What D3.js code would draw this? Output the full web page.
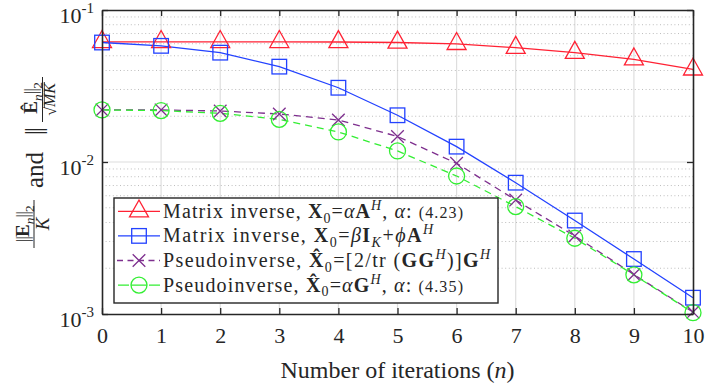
<!DOCTYPE html>
<html><head><meta charset="utf-8">
<script src="https://cdn.jsdelivr.net/npm/d3@7"></script>
<style>
body{margin:0;background:#fff}
</style>
</head><body>
<svg id="c" width="705" height="383"></svg>
<script>
// ---------------- data ----------------
const iterations = [0,1,2,3,4,5,6,7,8,9,10];
const xTickValues = [0,1,2,3,4,5,6,7,8,9,10];
const yTickValues = [1e-3, 1e-2, 1e-1];
const yTickExponents = ["-3","-2","-1"];
const matInvAlpha   = [0.0617,0.0617,0.0617,0.0617,0.0616,0.0611,0.0599,0.0565,0.0524,0.0474,0.0407];
const matInvBetaPhi = [0.0611,0.0581,0.0524,0.0424,0.0308,0.0203,0.01262,0.00731,0.00412,0.00230,0.00128];
const pinvTrace     = [0.0220,0.0220,0.02165,0.0207,0.0189,0.01472,0.00980,0.00562,0.00326,0.00182,0.00103];
const pinvAlpha     = [0.0220,0.0218,0.0209,0.0191,0.01576,0.01182,0.00809,0.00509,0.00315,0.00181,0.00102];
const xAxisTitle = "Number of iterations (";

// ---------------- styles ----------------
const FONT = '"Liberation Serif"';
const series = [
  {values: matInvAlpha,   color:"#ff2234", dash:null,  marker:"tri"},
  {values: matInvBetaPhi, color:"#2342ff", dash:null,  marker:"sq"},
  {values: pinvTrace,     color:"#7e2f8e", dash:"7,5", marker:"x"},
  {values: pinvAlpha,     color:"#33ee33", dash:"7,5", marker:"circ"}
];
const legendTextWidths = [300, 270, 327, 300];

const svg = d3.select("#c");
const L=102, R=693, T=10, B=314;
const x = d3.scaleLinear().domain([0,10]).range([L,R]);
const y = d3.scaleLog().domain([1e-3,1e-1]).range([B,T]);
const axisColor = "#262626";

// ---------------- grid ----------------
const grid = svg.append("g");
grid.selectAll(".vg").data(xTickValues.slice(1,-1)).enter().append("line")
  .attr("x1",d=>x(d)).attr("x2",d=>x(d)).attr("y1",T).attr("y2",B)
  .attr("stroke","#dedede").attr("stroke-width",1.2);
const minor = [];
[1e-3,1e-2].forEach(dec=>{ for(let k=2;k<=9;k++) minor.push(k*dec); });
grid.selectAll(".mg").data(minor).enter().append("line")
  .attr("x1",L).attr("x2",R).attr("y1",d=>y(d)).attr("y2",d=>y(d))
  .attr("stroke","#bdbdbd").attr("stroke-width",1).attr("stroke-dasharray","1,2.6");
grid.append("line").attr("x1",L).attr("x2",R).attr("y1",y(1e-2)).attr("y2",y(1e-2))
  .attr("stroke","#dedede").attr("stroke-width",1.2);

// ---------------- markers ----------------
function drawMarker(g, type, cx, cy, color){
  const sw = 1.3;
  if(type==="tri"){
    const h=17, w=19;
    g.append("path").attr("d",`M${cx},${cy-2*h/3} L${cx+w/2},${cy+h/3} L${cx-w/2},${cy+h/3} Z`)
      .attr("fill","none").attr("stroke",color).attr("stroke-width",sw);
  } else if(type==="sq"){
    const s=7.3;
    g.append("rect").attr("x",cx-s).attr("y",cy-s).attr("width",2*s).attr("height",2*s)
      .attr("fill","none").attr("stroke",color).attr("stroke-width",sw);
  } else if(type==="x"){
    const s=6.3;
    g.append("path").attr("d",`M${cx-s},${cy-s} L${cx+s},${cy+s} M${cx-s},${cy+s} L${cx+s},${cy-s}`)
      .attr("fill","none").attr("stroke",color).attr("stroke-width",sw);
  } else {
    g.append("circle").attr("cx",cx).attr("cy",cy).attr("r",8)
      .attr("fill","none").attr("stroke",color).attr("stroke-width",sw);
  }
}

// ---------------- series ----------------
const line = d3.line().x((d,i)=>x(iterations[i])).y(d=>y(d));
const plot = svg.append("g");
series.forEach(s=>{
  plot.append("path").attr("d",line(s.values)).attr("fill","none")
    .attr("stroke",s.color).attr("stroke-width",1.3)
    .attr("stroke-dasharray",s.dash);
});
series.forEach(s=>{
  s.values.forEach((v,i)=>drawMarker(plot,s.marker,x(iterations[i]),y(v),s.color));
});

// ---------------- axes ----------------
function styleAxis(g){
  g.attr("font-family",null).attr("font-size",null);
  g.select(".domain").attr("stroke",axisColor).attr("stroke-width",1.6);
  g.selectAll(".tick line").attr("stroke",axisColor).attr("stroke-width",1.3);
  g.selectAll("text").attr("fill",axisColor);
}
const xb = svg.append("g").attr("transform",`translate(0,${B})`)
  .call(d3.axisBottom(x).tickValues(xTickValues).tickSizeInner(-6).tickSizeOuter(0).tickPadding(13).tickFormat(d3.format("d")));
styleAxis(xb);
xb.selectAll("text").style("font-size","22px");
const xt = svg.append("g").attr("transform",`translate(0,${T})`)
  .call(d3.axisTop(x).tickValues(xTickValues).tickSizeInner(-6).tickSizeOuter(0).tickFormat(""));
styleAxis(xt);
const yl = svg.append("g").attr("transform",`translate(${L},0)`)
  .call(d3.axisLeft(y).tickValues(yTickValues).tickSizeInner(-6).tickSizeOuter(0).tickFormat(""));
styleAxis(yl);
const yr = svg.append("g").attr("transform",`translate(${R},0)`)
  .call(d3.axisRight(y).tickValues(yTickValues).tickSizeInner(-6).tickSizeOuter(0).tickFormat(""));
styleAxis(yr);

// y tick labels 10^k
yTickValues.forEach((v,i)=>{
  const t = svg.append("text").attr("x",94).attr("y",y(v)+13)
    .attr("text-anchor","end").style("font-size","22px");
  t.append("tspan").text("10");
  t.append("tspan").attr("dy",-10).style("font-size","15px").text(yTickExponents[i]);
});

// x axis title
const xtT = svg.append("text").attr("x",(L+R)/2).attr("y",378).attr("text-anchor","middle").style("font-size","24px");
xtT.append("tspan").text(xAxisTitle);
xtT.append("tspan").style("font-style","italic").text("n");
xtT.append("tspan").text(")");

// ---------------- rich text helper ----------------
function rich(sel, px, py, segs, base, anchor){
  const t = sel.append("text").attr("x",px).attr("y",py).style("font-size",base+"px");
  if(anchor) t.attr("text-anchor",anchor);
  let shift = 0;
  segs.forEach(s=>{
    const ts = t.append("tspan").text(s.t);
    let target = s.sub ? 0.24*base : (s.sup ? -0.4*base : 0);
    if(target-shift!==0) ts.attr("dy",target-shift);
    shift = target;
    if(s.sub||s.sup) ts.style("font-size",(base*0.7)+"px");
    else if(s.size) ts.style("font-size",s.size+"px");
    if(s.b) ts.style("font-weight","bold");
    if(s.i) ts.style("font-style","italic");
    if(s.ls) ts.style("letter-spacing",s.ls+"px");
  });
  return t;
}

// ---------------- y axis label (rotated) ----------------
const yg = svg.append("g").attr("transform","rotate(-90)");
// fraction 1 : ||E_n||_2 / K
rich(yg, -224, 29, [{t:"||",ls:-1},{t:"E",b:1},{t:"n",i:1,sub:1},{t:"||",ls:-1},{t:"2",sub:1}], 19, "middle");
yg.append("line").attr("x1",-248).attr("x2",-200).attr("y1",34).attr("y2",34).attr("stroke",axisColor).attr("stroke-width",1);
yg.append("text").attr("x",-224).attr("y",49).attr("text-anchor","middle").style("font-size","19px").style("font-style","italic").text("K");
// and ||
yg.append("text").attr("x",-170).attr("y",43).attr("text-anchor","middle").style("font-size","25px").text("and");
yg.append("text").attr("x",-132).attr("y",42).attr("text-anchor","middle").style("font-size","25px").style("letter-spacing","-2px").text("||");
// fraction 2 : ||Ê_n||_2 / sqrt(MK)
rich(yg, -98, 37, [{t:"\u00CA",b:1},{t:"n",i:1,sub:1},{t:"||",ls:-1},{t:"2",sub:1}], 19, "middle");
yg.append("line").attr("x1",-122).attr("x2",-77).attr("y1",42.5).attr("y2",42.5).attr("stroke",axisColor).attr("stroke-width",1);
const mk = yg.append("text").attr("x",-95).attr("y",55).attr("text-anchor","middle").style("font-size","16px").style("font-style","italic").style("font-family",FONT).text("MK");
const mkw = mk.node().getComputedTextLength();
yg.append("text").attr("x",-95-mkw/2).attr("y",56).attr("text-anchor","end").style("font-size","16px").style("font-family",FONT).text("\u221A");
yg.append("line").attr("x1",-95-mkw/2-1).attr("x2",-95+mkw/2+1).attr("y1",44.3).attr("y2",44.3).attr("stroke",axisColor).attr("stroke-width",0.9);

// ---------------- legend ----------------
const legendLabels = [
  [{t:"Matrix inverse, "},{t:"X",b:1},{t:"0",sub:1},{t:"="},{t:"\u03B1",i:1},{t:"A",b:1},{t:"H",i:1,sup:1},{t:", "},{t:"\u03B1",i:1},{t:": "},{t:"(4.23)",size:16}],
  [{t:"Matrix inverse, "},{t:"X",b:1},{t:"0",sub:1},{t:"="},{t:"\u03B2",i:1},{t:"I",b:1},{t:"K",i:1,sub:1},{t:"+"},{t:"\u03D5",i:1},{t:"A",b:1},{t:"H",i:1,sup:1}],
  [{t:"Pseudoinverse, "},{t:"X\u0302",b:1},{t:"0",sub:1},{t:"="},{t:"["},{t:"2/tr "},{t:"("},{t:"GG",b:1},{t:"H",i:1,sup:1},{t:")"},{t:"]"},{t:"G",b:1},{t:"H",i:1,sup:1}],
  [{t:"Pseudoinverse, "},{t:"X\u0302",b:1},{t:"0",sub:1},{t:"="},{t:"\u03B1",i:1},{t:"G",b:1},{t:"H",i:1,sup:1},{t:", "},{t:"\u03B1",i:1},{t:": "},{t:"(4.35)",size:16}]
];
const lg = svg.append("g");
lg.append("rect").attr("x",114).attr("y",198).attr("width",384).attr("height",105)
  .attr("fill","#fff").attr("stroke",axisColor).attr("stroke-width",1.4);
series.forEach((s,i)=>{
  const cy = 211.3 + i*24.6;
  if(s.marker==="x"){
    lg.append("line").attr("x1",117).attr("x2",160).attr("y1",cy).attr("y2",cy)
      .attr("stroke",s.color).attr("stroke-width",1.3).attr("stroke-dasharray","6,4.5");
  } else if(s.marker==="circ"){
    lg.append("line").attr("x1",118).attr("x2",160).attr("y1",cy).attr("y2",cy)
      .attr("stroke",s.color).attr("stroke-width",1.3).attr("stroke-dasharray","11,2,16,2,11");
  } else {
    lg.append("line").attr("x1",118).attr("x2",160).attr("y1",cy).attr("y2",cy)
      .attr("stroke",s.color).attr("stroke-width",1.3);
  }
  drawMarker(lg, s.marker, 139, cy, s.color);
  const t = rich(lg, 163, cy+6.5, legendLabels[i], 20);
  t.style("font-family",FONT);
  t.selectAll("tspan").style("font-family",FONT);
  t.attr("textLength",legendTextWidths[i]).attr("lengthAdjust","spacing");
});

// force serif font on every text element and tspan
svg.selectAll("text").style("font-family",FONT).style("fill",axisColor);
svg.selectAll("tspan").style("font-family",FONT);
</script>
</body></html>
